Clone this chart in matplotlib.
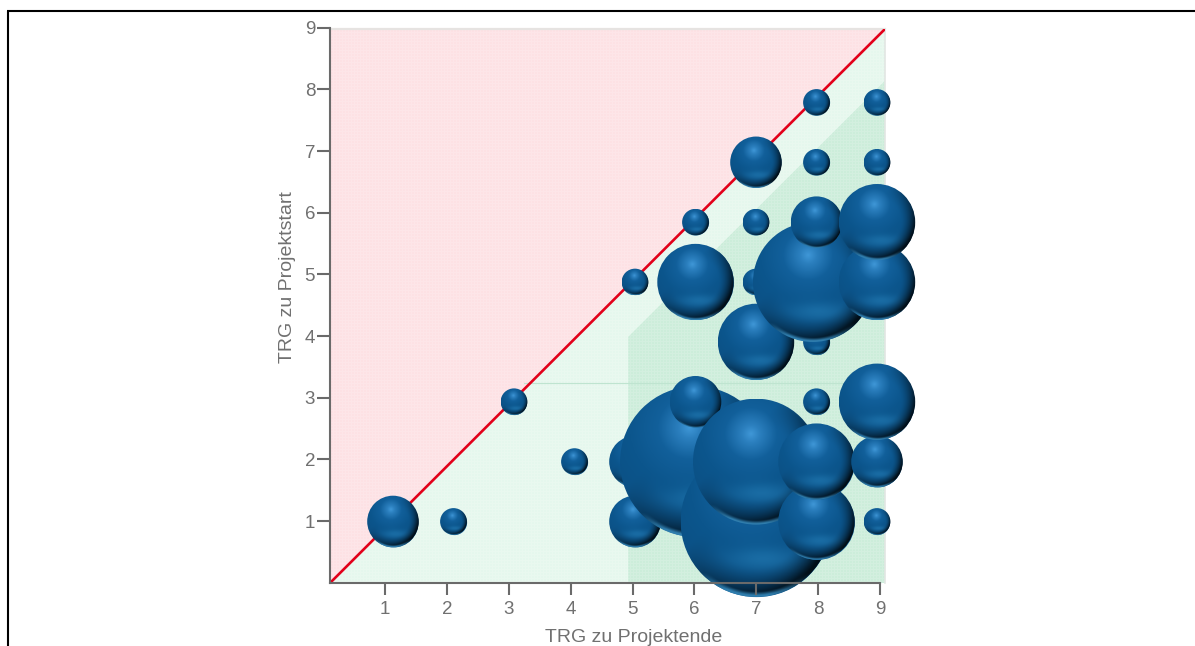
import numpy as np
import matplotlib
matplotlib.use("Agg")
import matplotlib.pyplot as plt
from matplotlib.patches import Ellipse, Polygon

plt.rcParams['font.family'] = ['Liberation Sans', 'DejaVu Sans']

# Data: TRG at project end, TRG at project start, bubble size (project count)
trg_end   = [1, 2, 3, 4, 5, 5, 5, 6, 6, 6, 6, 7, 7, 7, 7, 7, 7, 8, 8, 8, 8, 7.94, 8, 8, 8, 9, 9, 9, 9, 9, 9, 9]
trg_start = [1, 1, 3, 2, 1, 2, 5, 2, 3, 5, 6, 1, 2, 4, 5, 6, 7, 1, 2, 3, 4, 5, 6, 7, 8, 1, 2, 3, 5, 6, 7, 8]
projects  = [2, 1, 1, 1, 2, 2, 1, 6, 2, 3, 1, 6, 5, 3, 1, 1, 2, 3, 3, 1, 1, 4.75, 2, 1, 1, 1, 2, 3, 3, 3, 1, 1]
ticks = [1, 2, 3, 4, 5, 6, 7, 8, 9]
x_label = "TRG zu Projektende"
y_label = "TRG zu Projektstart"

W, H, DPI = 1195, 646, 100
fig = plt.figure(figsize=(W / DPI, H / DPI), dpi=DPI, facecolor='white')

L, R, T, B = 330, 885, 29, 583
rect = [L / W, 1 - B / H, (R - L) / W, (B - T) / H]
ax_reg = fig.add_axes(rect, zorder=0)
ax_bub = fig.add_axes(rect, zorder=1)
ax = fig.add_axes([L / W, 1 - 582.8 / H, (R - L) / W, (582.8 - 27.7) / H], zorder=2)

xlim = (0.11, 9.08)
ylim = (0.0, 9.0)
ax.set_xlim(xlim)
ax.set_ylim(ylim)
ax_reg.set_xlim(xlim)
ax_reg.set_ylim(ylim)

# regions
ax_reg.set_axis_off()
ax_reg.add_patch(Polygon([(xlim[0], ylim[0]), (xlim[0], ylim[1]), (xlim[1], ylim[1])],
                         closed=True, fc='#fde1e4', ec='none', zorder=1))
ax_reg.add_patch(Polygon([(xlim[0], ylim[0]), (xlim[1], ylim[0]), (xlim[1], ylim[1])],
                         closed=True, fc='#e5f7ed', ec='none', zorder=1))
ax_reg.add_patch(Polygon([(4.93, ylim[0]), (xlim[1], ylim[0]), (xlim[1], 8.16), (4.93, 4.0)],
                         closed=True, fc='#ccedda', ec='none', zorder=2))
ax_reg.plot([3.25, xlim[1]], [3.25, 3.25], color='#b4dfc8', lw=0.8, zorder=3)
# fine texture
th, tw = B - T, R - L
yy, xx = np.mgrid[0:th, 0:tw]
tex = np.zeros((th, tw, 4))
tex[..., :3] = 1
tex[..., 3] = 0.16 * (((xx % 3) == 0) | ((yy % 3) == 0))
ax_reg.imshow(tex, extent=(*xlim, *ylim), aspect='auto', interpolation='nearest', zorder=4)
ax_reg.set_xlim(xlim)
ax_reg.set_ylim(ylim)
ax_reg.plot([xlim[0], xlim[1]], [ylim[1], ylim[1]], color='#e6e3e1', lw=1.6, zorder=5, clip_on=False)
ax_reg.plot([xlim[1], xlim[1]], [ylim[0], ylim[1]], color='#e2e6e3', lw=1.2, zorder=5, clip_on=False)
ax_reg.plot([xlim[0], xlim[1]], [ylim[0], ylim[1]], color='#e2001a', lw=1.9, zorder=6,
            solid_capstyle='butt')

# bubbles sit on their own slightly different grid in the source chart
bx_per, by_per = 60.5, 59.86
bxlim = (1 - (393 - L) / bx_per, 1 + (R - 393) / bx_per)
bylim = (1 - (B - 521.5) / by_per, 1 + (521.5 - T) / by_per)
ax_bub.set_axis_off()
ax_bub.patch.set_alpha(0)
ax_bub.set_xlim(bxlim)
ax_bub.set_ylim(bylim)


def sphere(n=256):
    v, u = np.mgrid[1:-1:n * 1j, -1:1:n * 1j]
    r = np.hypot(u, v)
    d = np.hypot(u + 0.08, (v - 0.45))
    stops = [0.0, 0.14, 0.42, 0.8, 1.6]
    c0 = np.array([[0x40, 0x98, 0xd8], [0x2c, 0x80, 0xbf], [0x12, 0x60, 0x9b], [0x0c, 0x56, 0x8d], [0x0b, 0x4c, 0x7e]], float)
    img = np.stack([np.interp(d, stops, c0[:, i]) for i in range(3)], axis=-1)
    # soft secondary glow in the lower part
    glow = np.exp(-(((u - 0.1) / 0.5) ** 2 + ((v + 0.5) / 0.16) ** 2))
    img += glow[..., None] * np.array([14, 24, 26])
    # dark crescent, strongest lower right
    side = np.clip((u * 0.7 - v * 0.7 + 0.4) / 1.3, 0, 1)
    rim = np.clip((r - 0.6) / 0.36, 0, 1) ** 1.5
    shade = 1 - 0.82 * rim * side
    img *= shade[..., None]
    # light reflected rim along the bottom
    refl = np.clip((r - 0.93) / 0.05, 0, 1) * np.clip((-v - 0.68) / 0.22, 0, 1) * np.clip(1.2 - u * 1.2, 0, 1)
    img = img * (1 - refl[..., None]) + np.array([0x30, 0x7e, 0xae]) * refl[..., None]
    return np.clip(img, 0, 255).astype(np.uint8)


tex_sphere = sphere()
order = sorted(range(len(projects)), key=lambda i: (round(trg_end[i]), trg_start[i]))
for k, i in enumerate(order):
    rp = 1.0 + 12.4 * projects[i]          # radius in pixels
    rx, ry = rp / bx_per, rp / by_per
    cx, cy = trg_end[i], trg_start[i]
    ax_bub.scatter([cx], [cy], s=(2 * (rp - 0.8) * 72 / DPI) ** 2, color='#0f5c96', linewidths=0,
                   zorder=10 + 2 * k, clip_on=False)
    im = ax_bub.imshow(tex_sphere, extent=(cx - rx, cx + rx, cy - ry, cy + ry), aspect='auto',
                       interpolation='bilinear', zorder=11 + 2 * k)
    clip = Ellipse((cx, cy), 2 * rx, 2 * ry, transform=ax_bub.transData)
    im.set_clip_path(clip)
    im.set_clip_box(fig.bbox)
ax_bub.set_xlim(bxlim)
ax_bub.set_ylim(bylim)

# axes
ax.patch.set_alpha(0)
grey = '#6a6a6a'
for s in ('top', 'right'):
    ax.spines[s].set_visible(False)
for s in ('left', 'bottom'):
    ax.spines[s].set_color(grey)
    ax.spines[s].set_linewidth(1.5)
ax.spines['bottom'].set_bounds(xlim[0], 9.0)
ax.set_xticks(ticks)
ax.set_yticks(ticks)
ax.set_xticklabels([str(t) for t in ticks])
ax.set_yticklabels([str(t) for t in ticks])
ax.tick_params(axis='x', length=8.6, width=1.5, color=grey, labelcolor='#707070', labelsize=13.5, pad=4.5)
ax.tick_params(axis='y', length=9.2, width=1.5, color=grey, labelcolor='#707070', labelsize=13.5, pad=1.5)
fig.text(634 / W, 1 - 637 / H, x_label, ha='center', va='center', color='#707070', fontsize=14)
fig.text(288 / W, 1 - 277 / H, y_label, ha='center', va='center', rotation=90, color='#707070', fontsize=14)

# outer frame
fig.add_artist(plt.Line2D([8 / W, 8 / W], [0, 1 - 11 / H], color='black', lw=1.5, solid_capstyle='butt'))
fig.add_artist(plt.Line2D([7.3 / W, 1], [1 - 11 / H, 1 - 11 / H], color='black', lw=1.5, solid_capstyle='butt'))

fig.savefig('out.png', dpi=DPI)
